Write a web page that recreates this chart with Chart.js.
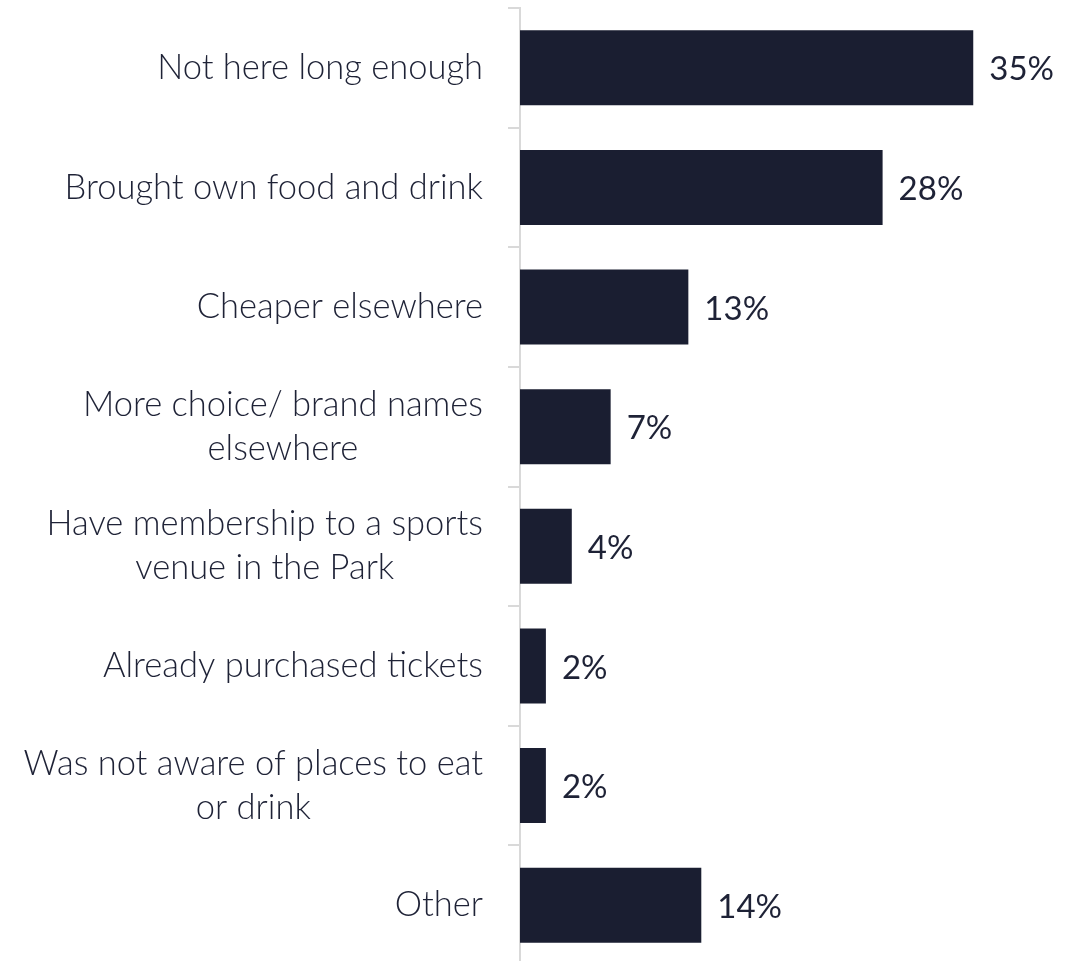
<!DOCTYPE html>
<html>
<head>
<meta charset="utf-8">
<script src="https://cdn.jsdelivr.net/npm/chart.js@4"></script>
<style>
  html, body { margin: 0; padding: 0; background: #ffffff; overflow: hidden; }
  #wrap { width: 1081px; height: 961px; position: relative; overflow: hidden; }
</style>
</head>
<body>
<div id="wrap"><canvas id="chart" width="1081" height="965"></canvas></div>
<script>
// Reasons for not buying food or drink in the Park
const categories = [
  "Not here long enough",
  "Brought own food and drink",
  "Cheaper elsewhere",
  ["More choice/ brand names", "elsewhere"],
  ["Have membership to a sports", "venue in the Park"],
  "Already purchased tickets",
  ["Was not aware of places to eat", "or drink"],
  "Other"
];
const shares = [35, 28, 13, 7, 4, 2, 2, 14];
const axisMax = 40;

const BAR = "#1a1e31";
const TEXT = "#1e2236";
const AXIS = "#d9d9d9";
const LABEL_FONT = "300 34.5px Lato";
const LABEL_LINE = 44;
const LABEL_GAP = 37; // distance from the axis line to the right edge of the category text

// Category text: block right-aligned to the axis, lines centred within the block
const categoryLabels = {
  id: "categoryLabels",
  afterDraw(chart) {
    const ctx = chart.ctx;
    const yScale = chart.scales.y;
    const right = yScale.right - LABEL_GAP;
    ctx.save();
    ctx.font = LABEL_FONT;
    ctx.fillStyle = TEXT;
    ctx.textAlign = "center";
    ctx.textBaseline = "middle";
    categories.forEach((label, i) => {
      const lines = Array.isArray(label) ? label : [label];
      const blockW = Math.max(...lines.map(l => ctx.measureText(l).width));
      const cx = right - blockW / 2;
      const cy = yScale.getPixelForTick(i);
      const y0 = cy - (lines.length - 1) * LABEL_LINE / 2;
      lines.forEach((line, k) => ctx.fillText(line, cx, y0 + k * LABEL_LINE));
    });
    ctx.restore();
  }
};

// Percentage labels at the end of each bar
const valueLabels = {
  id: "valueLabels",
  afterDatasetsDraw(chart) {
    const ctx = chart.ctx;
    const meta = chart.getDatasetMeta(0);
    ctx.save();
    ctx.font = "400 33px Lato";
    ctx.fillStyle = TEXT;
    ctx.textAlign = "left";
    ctx.textBaseline = "middle";
    meta.data.forEach((bar, i) => {
      ctx.fillText(shares[i] + "%", bar.x + 16, bar.y + 2);
    });
    ctx.restore();
  }
};

new Chart(document.getElementById("chart"), {
  type: "bar",
  data: {
    labels: categories,
    datasets: [{
      data: shares,
      backgroundColor: BAR,
      borderWidth: 0,
      barPercentage: 0.627,
      categoryPercentage: 1
    }]
  },
  options: {
    indexAxis: "y",
    responsive: false,
    animation: false,
    layout: { padding: { top: 8, right: 43, bottom: 0, left: 0 } },
    plugins: { legend: { display: false }, tooltip: { enabled: false } },
    scales: {
      x: {
        display: false,
        min: 0,
        max: axisMax
      },
      y: {
        afterFit(scale) {
          scale.width = 520;
          scale.paddingTop = 0;
          scale.paddingBottom = 0;
        },
        border: { display: true, color: AXIS, width: 2 },
        grid: {
          offset: true,
          drawOnChartArea: false,
          drawTicks: true,
          tickLength: 12,
          color: AXIS,
          lineWidth: 2
        },
        ticks: { display: false }
      }
    }
  },
  plugins: [valueLabels, categoryLabels]
});
</script>
</body>
</html>
